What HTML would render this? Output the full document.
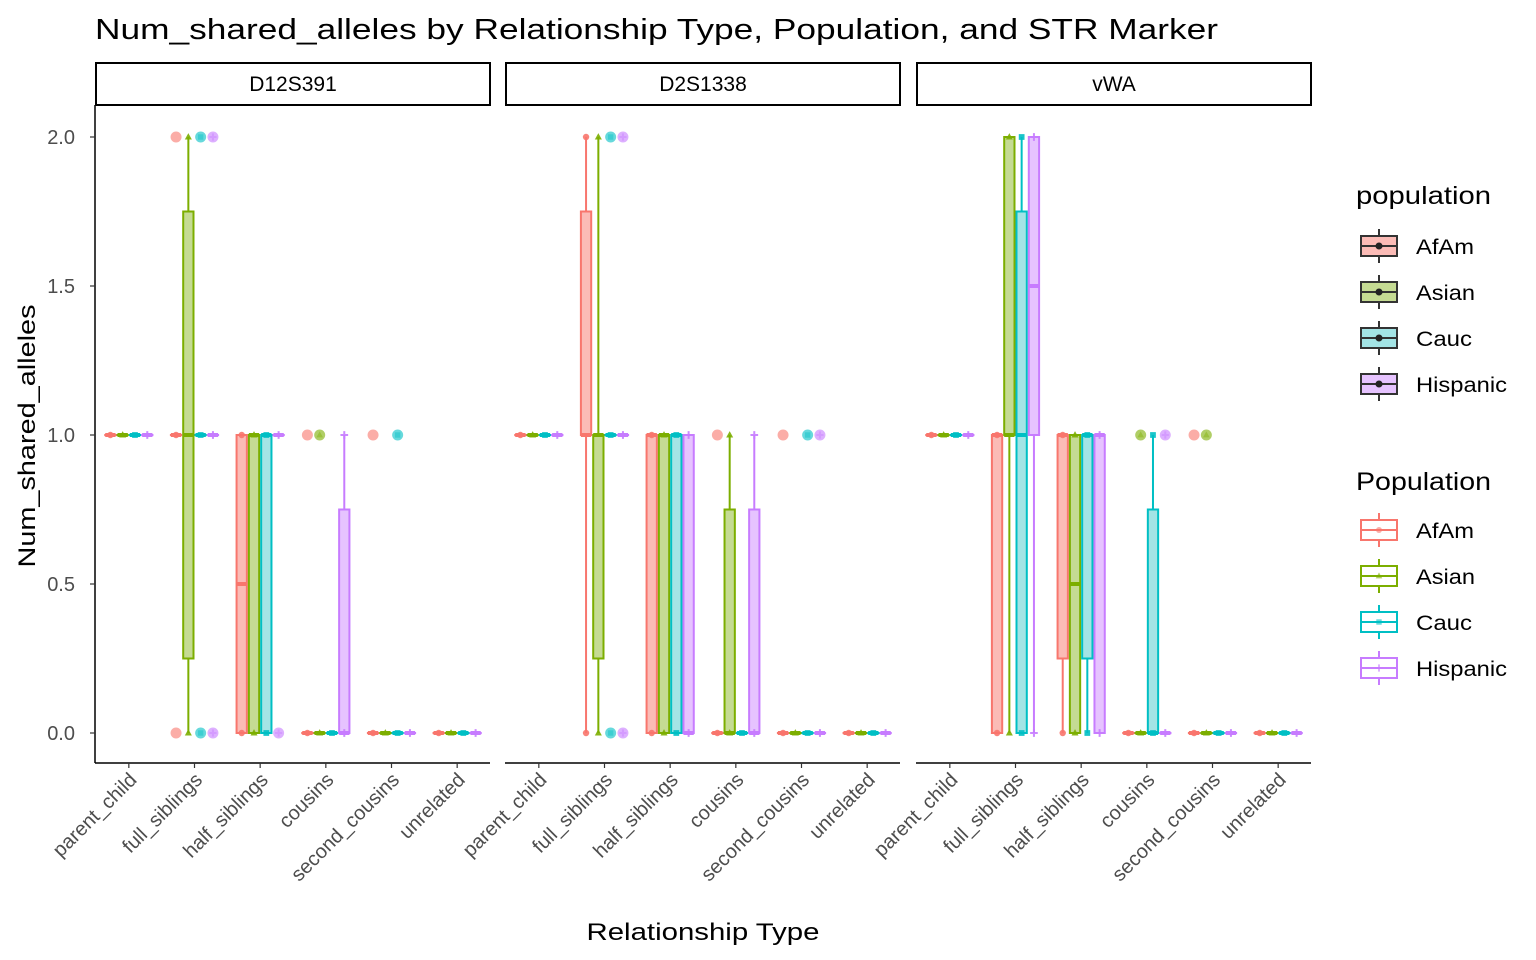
<!DOCTYPE html>
<html><head><meta charset="utf-8">
<style>
body{margin:0;background:#fff;}
svg{display:block;font-family:"Liberation Sans",Arial,sans-serif;}
</style></head>
<body>
<svg id="chart" width="1536" height="960" viewBox="0 0 1536 960">
<text x="95" y="39" font-size="29" textLength="1123" lengthAdjust="spacingAndGlyphs" fill="#000">Num_shared_alleles by Relationship Type, Population, and STR Marker</text>
<text x="703" y="940" font-size="24" text-anchor="middle" textLength="233" lengthAdjust="spacingAndGlyphs">Relationship Type</text>
<text transform="translate(35,436) rotate(-90)" font-size="24" text-anchor="middle" textLength="263" lengthAdjust="spacingAndGlyphs">Num_shared_alleles</text>
<g id="plot"></g>
<g id="legend"></g>
</svg>
<script>
const markers = ["D12S391","D2S1338","vWA"];
const categories = ["parent_child","full_siblings","half_siblings","cousins","second_cousins","unrelated"];
const populations = ["AfAm","Asian","Cauc","Hispanic"];
const yTicks = [0,0.5,1,1.5,2];
const yTickLabels = ["0.0","0.5","1.0","1.5","2.0"];
// box stats [lower, q1, median, q3, upper] per marker -> category -> population
const statsD12S391 = [
 [[1,1,1,1,1],[1,1,1,1,1],[1,1,1,1,1],[1,1,1,1,1]],
 [[1,1,1,1,1],[0,0.25,1,1.75,2],[1,1,1,1,1],[1,1,1,1,1]],
 [[0,0,0.5,1,1],[0,0,1,1,1],[0,0,1,1,1],[1,1,1,1,1]],
 [[0,0,0,0,0],[0,0,0,0,0],[0,0,0,0,0],[0,0,0,0.75,1]],
 [[0,0,0,0,0],[0,0,0,0,0],[0,0,0,0,0],[0,0,0,0,0]],
 [[0,0,0,0,0],[0,0,0,0,0],[0,0,0,0,0],[0,0,0,0,0]]
];
const outliersD12S391 = [
 [[],[],[],[]],
 [[2,0],[],[2,0],[2,0]],
 [[],[],[],[0]],
 [[1],[1],[],[]],
 [[1],[],[1],[]],
 [[],[],[],[]]
];
const statsD2S1338 = [
 [[1,1,1,1,1],[1,1,1,1,1],[1,1,1,1,1],[1,1,1,1,1]],
 [[0,1,1,1.75,2],[0,0.25,1,1,2],[1,1,1,1,1],[1,1,1,1,1]],
 [[0,0,1,1,1],[0,0,1,1,1],[0,0,1,1,1],[0,0,0,1,1]],
 [[0,0,0,0,0],[0,0,0,0.75,1],[0,0,0,0,0],[0,0,0,0.75,1]],
 [[0,0,0,0,0],[0,0,0,0,0],[0,0,0,0,0],[0,0,0,0,0]],
 [[0,0,0,0,0],[0,0,0,0,0],[0,0,0,0,0],[0,0,0,0,0]]
];
const outliersD2S1338 = [
 [[],[],[],[]],
 [[],[],[2,0],[2,0]],
 [[],[],[],[]],
 [[1],[],[],[]],
 [[1],[],[1],[1]],
 [[],[],[],[]]
];
const statsVWA = [
 [[1,1,1,1,1],[1,1,1,1,1],[1,1,1,1,1],[1,1,1,1,1]],
 [[0,0,1,1,1],[0,1,1,2,2],[0,0,1,1.75,2],[0,1,1.5,2,2]],
 [[0,0.25,1,1,1],[0,0,0.5,1,1],[0,0.25,1,1,1],[0,0,1,1,1]],
 [[0,0,0,0,0],[0,0,0,0,0],[0,0,0,0.75,1],[0,0,0,0,0]],
 [[0,0,0,0,0],[0,0,0,0,0],[0,0,0,0,0],[0,0,0,0,0]],
 [[0,0,0,0,0],[0,0,0,0,0],[0,0,0,0,0],[0,0,0,0,0]]
];
const outliersVWA = [
 [[],[],[],[]],
 [[],[],[],[]],
 [[],[],[],[]],
 [[],[1],[],[1]],
 [[1],[1],[],[]],
 [[],[],[],[]]
];
const allStats = [statsD12S391, statsD2S1338, statsVWA];
const allOutliers = [outliersD12S391, outliersD2S1338, outliersVWA];

const colors = ["#F8766D","#7CAE00","#00BFC4","#C77CFF"];
const fills = ["#FBBBB6","#C5DB93","#A3E4E5","#E6C3FF"];
const NS = "http://www.w3.org/2000/svg";
const panelX = [96,506,917], panelW = 394;
const yTop = 105, yBot = 763;
function yScale(v){ return 733 - 298*v; }
function xCat(p,i){ return panelX[p] + (i+0.5)*panelW/categories.length; }
const dodge = 12.3;
function el(tag, attrs, parent){ const e=document.createElementNS(NS,tag); for(const k in attrs) e.setAttribute(k,attrs[k]); parent.appendChild(e); return e; }
const plot = document.getElementById("plot");

function shape(g, pop, cx, cy, r, op){
  const c = colors[pop];
  let s;
  if(pop===0) s = el("circle",{cx:cx,cy:cy,r:r,fill:c,"fill-opacity":op},g);
  else if(pop===1) s = el("polygon",{points:`${cx},${cy-r*1.2} ${cx-r*1.1},${cy+r*0.8} ${cx+r*1.1},${cy+r*0.8}`,fill:c,"fill-opacity":op},g);
  else if(pop===2) s = el("rect",{x:cx-r*0.9,y:cy-r*0.9,width:r*1.8,height:r*1.8,fill:c,"fill-opacity":op},g);
  else s = el("path",{d:`M${cx-r*1.2},${cy}H${cx+r*1.2}M${cx},${cy-r*1.2}V${cy+r*1.2}`,stroke:c,"stroke-width":2,"stroke-opacity":op,fill:"none"},g);
  return s;
}

for(let p=0;p<3;p++){
  const pg = el("g",{},plot);
  
  
  const st = el("rect",{x:panelX[p],y:63,width:panelW,height:42,fill:"#fff",stroke:"#000","stroke-width":2},pg);
  
  
  const stt = el("text",{x:panelX[p]+panelW/2,y:91,"font-size":21,"text-anchor":"middle"},pg);
  stt.textContent = markers[p];
  
  
  const xa = el("line",{x1:panelX[p]-1,x2:panelX[p]+panelW,y1:yBot,y2:yBot,stroke:"#000","stroke-width":1.5},pg);
  
  
  categories.forEach((c,i)=>{
    const x = xCat(p,i);
    el("line",{x1:x,x2:x,y1:yBot,y2:yBot+5,stroke:"#333","stroke-width":1.2},pg);
    const t = el("text",{transform:`translate(${x+9},${yBot+18}) rotate(-45)`,"font-size":20,"text-anchor":"end",fill:"#4d4d4d"},pg);
    t.textContent = c;
    
    
  });
  if(p===0){
    const ya = el("line",{x1:95,x2:95,y1:yTop,y2:yBot,stroke:"#000","stroke-width":1.5},pg);
    
    
    yTicks.forEach((v,k)=>{
      el("line",{x1:90,x2:95,y1:yScale(v),y2:yScale(v),stroke:"#333","stroke-width":1.2},pg);
      const t = el("text",{x:75,y:yScale(v)+7,"font-size":20,"text-anchor":"end",fill:"#4d4d4d"},pg);
      t.textContent = yTickLabels[k];
      
      
    });
  }
  const stats = allStats[p], outs = allOutliers[p];
  categories.forEach((c,i)=>{
    populations.forEach((pop,j)=>{
      const s = stats[i][j];
      const cx = xCat(p,i) + (j-1.5)*dodge;
      const g = el("g",{},pg);
      
      
      const col = colors[j];
      el("line",{x1:cx,x2:cx,y1:yScale(s[0]),y2:yScale(s[1]),stroke:col,"stroke-width":2},g);
      el("line",{x1:cx,x2:cx,y1:yScale(s[3]),y2:yScale(s[4]),stroke:col,"stroke-width":2},g);
      const h = yScale(s[1]) - yScale(s[3]);
      el("rect",{x:cx-dodge/2+1,y:yScale(s[3]),width:dodge-2,height:Math.max(h,0.1),fill:fills[j],stroke:col,"stroke-width":2},g);
      el("line",{x1:cx-dodge/2+1,x2:cx+dodge/2-1,y1:yScale(s[2]),y2:yScale(s[2]),stroke:col,"stroke-width":4},g);
      const pts = Array.from(new Set([s[0],s[4]]));
      pts.forEach(v=>{ shape(g,j,cx,yScale(v),3.2,0.9); });
      outs[i][j].forEach(v=>{
        const o = el("circle",{cx:cx,cy:yScale(v),r:5.5,fill:col,"fill-opacity":0.6},g);
        
        
        if(j!==0) shape(g,j,cx,yScale(v),3,0.4);
      });
    });
  });
}

const lg = document.getElementById("legend");
function legendTitle(txt,y,name){
  const t = el("text",{x:1356,y:y,"font-size":25,textLength:135,lengthAdjust:"spacingAndGlyphs"},lg);
  t.textContent = txt;
  
  
}
legendTitle("population",204,"legend-title-fill");
legendTitle("Population",490,"legend-title-colour");
populations.forEach((pop,j)=>{
  [0,1].forEach(L=>{
    const cy = (L===0?246:530) + j*46;
    const g = el("g",{},lg);
    
    
    const stroke = L===0 ? "#333" : colors[j];
    const fill = L===0 ? fills[j] : "#fff";
    el("line",{x1:1379,x2:1379,y1:cy-17,y2:cy+17,stroke:stroke,"stroke-width":2},g);
    el("rect",{x:1361,y:cy-10,width:36,height:20,fill:fill,stroke:stroke,"stroke-width":2},g);
    el("line",{x1:1361,x2:1397,y1:cy,y2:cy,stroke:stroke,"stroke-width":2},g);
    if(L===0) el("circle",{cx:1379,cy:cy,r:3.5,fill:"#222"},g);
    else shape(g,j,1379,cy,3,0.6);
    const t = el("text",{x:1416,y:cy+8,"font-size":21,textLength:(pop==="Hispanic"?91:pop==="AfAm"?58:pop==="Asian"?59:56),lengthAdjust:"spacingAndGlyphs"},g);
    t.textContent = pop;
  });
});
</script>
</body></html>
